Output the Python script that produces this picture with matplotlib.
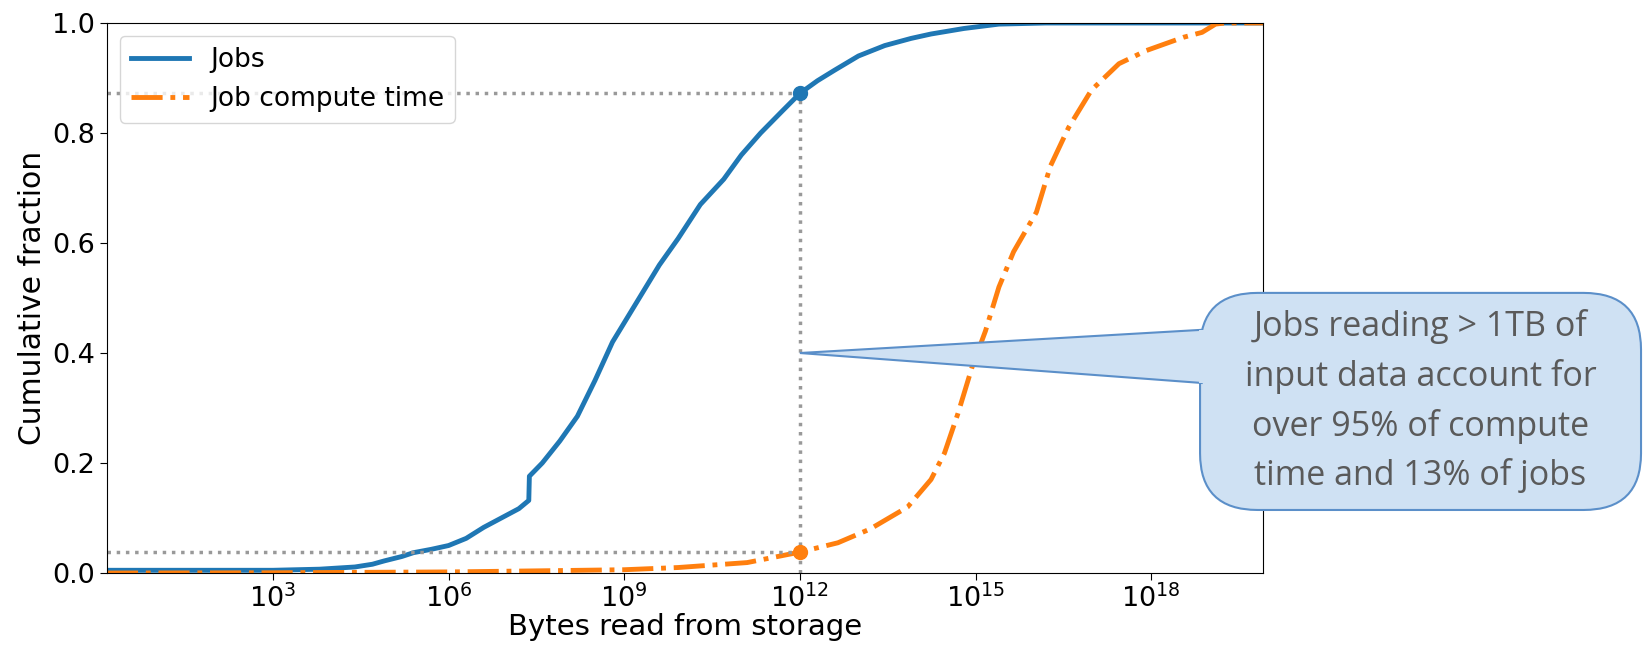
import numpy as np
import matplotlib.pyplot as plt
from matplotlib.patches import FancyBboxPatch, Polygon

# CDF of bytes read per job (log10 of bytes, cumulative fraction)
jobs_logx = [0.165, 3.0, 3.8, 4.4, 4.7, 4.9, 5.2, 5.4, 5.7, 6.0, 6.3, 6.6,
             6.9, 7.2, 7.37, 7.38, 7.6, 7.75, 7.9, 8.2, 8.5, 8.8, 9.2, 9.6,
             9.92, 10.3, 10.7, 11.0, 11.33, 11.7, 12.0, 12.3, 12.59, 13.0,
             13.45, 13.9, 14.24, 14.8, 15.4, 16.2, 19.91]
jobs_cdf = [0.005, 0.005, 0.007, 0.011, 0.016, 0.022, 0.03, 0.037, 0.043,
            0.05, 0.063, 0.083, 0.1, 0.117, 0.132, 0.176, 0.2, 0.22, 0.24,
            0.285, 0.35, 0.42, 0.49, 0.56, 0.608, 0.67, 0.716, 0.76, 0.8,
            0.84, 0.872, 0.895, 0.914, 0.94, 0.959, 0.972, 0.98, 0.99, 0.998,
            1.0, 1.0]

# CDF of compute time weighted by bytes read
time_logx = [0.165, 3.0, 6.0, 7.56, 9.0, 9.92, 11.1, 12.0, 12.65, 13.2,
             13.84, 14.24, 14.47, 14.7, 14.94, 15.17, 15.4, 15.65, 16.04,
             16.28, 16.59, 16.98, 17.45, 17.92, 18.55, 18.87, 19.1, 19.26,
             19.91]
time_cdf = [0.0, 0.0005, 0.002, 0.004, 0.006, 0.01, 0.019, 0.038, 0.055,
            0.08, 0.12, 0.17, 0.218, 0.29, 0.374, 0.44, 0.52, 0.584, 0.656,
            0.74, 0.81, 0.878, 0.926, 0.95, 0.974, 0.983, 0.998, 1.0, 1.0]

mark_x = 1e12
mark_jobs = 0.872
mark_time = 0.038
callout_y = 0.40
callout_text = ("Jobs reading > 1TB of\ninput data account for\n"
                "over 95% of compute\ntime and 13% of jobs")

x_lo, x_hi = 10 ** 0.165, 10 ** 19.91

fig = plt.figure(figsize=(16.43, 6.48), dpi=100)
ax = fig.add_axes([0.0651, 0.1157, 0.7036, 0.8488])

ax.plot(10 ** np.array(jobs_logx), jobs_cdf, color="#1f77b4", lw=3.5,
        label="Jobs")
ax.plot(10 ** np.array(time_logx), time_cdf, color="#ff7f0e", lw=3.5,
        ls="-.", label="Job compute time")

# guide lines at 1TB
ax.hlines([mark_jobs, mark_time], x_lo, mark_x, colors="#999999",
          linestyles=":", lw=2.5)
ax.vlines(mark_x, 0, mark_jobs, colors="#999999", linestyles=":", lw=2.5)
ax.plot(mark_x, mark_jobs, "o", color="#1f77b4", ms=10)
ax.plot(mark_x, mark_time, "o", color="#ff7f0e", ms=10)

ax.set_xscale("log")
ax.set_xlim(x_lo, x_hi)
ax.set_ylim(0, 1)
ax.set_xticks([1e3, 1e6, 1e9, 1e12, 1e15, 1e18])
ax.minorticks_off()
ax.set_yticks([0, 0.2, 0.4, 0.6, 0.8, 1.0])
ax.set_yticklabels(["0.0", "0.2", "0.4", "0.6", "0.8", "1.0"])
ax.tick_params(labelsize=19.5, length=5)
ax.set_xlabel("Bytes read from storage", fontsize=21, labelpad=0)
ax.set_ylabel("Cumulative fraction", fontsize=21.5, labelpad=4)
ax.legend(loc="upper left", fontsize=19, handlelength=2.2)

# callout bubble (figure coords)
fig.canvas.draw()
tip = ax.transData.transform((mark_x, callout_y))
tip = fig.transFigure.inverted().transform(tip)
bx0, by0, bx1, by1 = 0.7304, 0.213, 0.9988, 0.548
box = FancyBboxPatch((bx0, by0), bx1 - bx0, by1 - by0,
                     boxstyle="round,pad=0,rounding_size=0.035",
                     transform=fig.transFigure, facecolor="#cfe1f3",
                     edgecolor="#5b8fc9", lw=1.5, mutation_aspect=2.5,
                     zorder=5)
fig.patches.append(box)
wedge = Polygon([(tip[0], tip[1]), (bx0 + 0.001, 0.491),
                 (bx0 + 0.001, 0.409)], closed=True,
                transform=fig.transFigure, facecolor="#cfe1f3",
                edgecolor="#5b8fc9", lw=1.5, zorder=6)
fig.patches.append(wedge)
# hide wedge base edge
fig.patches.append(Polygon([(bx0 - 0.0005, 0.4915), (bx0 + 0.004, 0.4915),
                            (bx0 + 0.004, 0.4085), (bx0 - 0.0005, 0.4085)],
                           closed=True, transform=fig.transFigure,
                           facecolor="#cfe1f3", edgecolor="none", zorder=7))
fig.text((bx0 + bx1) / 2, 0.381, callout_text, ha="center", va="center",
         fontsize=24.5, color="#5a5a5a", family="Open Sans",
         linespacing=1.55, zorder=8)

fig.savefig("out.png", dpi=100)
